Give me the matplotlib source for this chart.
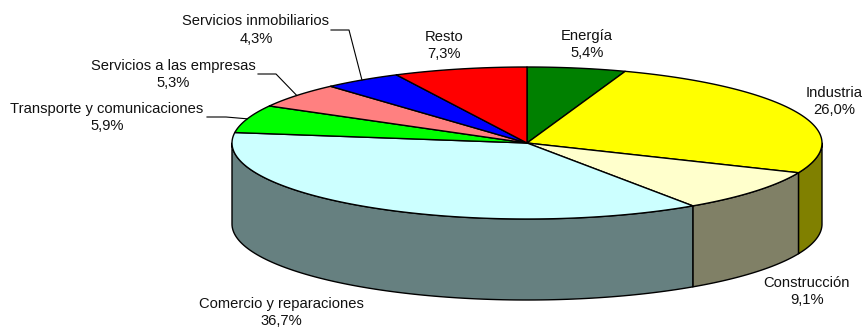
#!/usr/bin/env python3
import numpy as np
import matplotlib
matplotlib.use('Agg')
import matplotlib.pyplot as plt
from matplotlib.colors import to_rgb

plt.rcParams['font.family'] = ['Liberation Sans', 'DejaVu Sans']

# clockwise from 12 o'clock
sectors = ['Energía', 'Industria', 'Construcción', 'Comercio y reparaciones',
           'Transporte y comunicaciones', 'Servicios a las empresas',
           'Servicios inmobiliarios', 'Resto']
shares = [5.4, 26.0, 9.1, 36.7, 5.9, 5.3, 4.3, 7.3]
colors = ['#008000', '#FFFF00', '#FFFFCC', '#CCFFFF',
          '#00FF00', '#FF8080', '#0000FF', '#FF0000']

# label centre in pixels, one per sector
label_pos = [(587, 44.5), (834, 101.5), (807, 291.5), (281, 312.5),
             (107, 117.5), (173, 74.5), (256, 30), (444, 45.5)]
# sectors with a leader line: index -> (text end x, elbow x, y)
leaders = {4: (207, 226, 117), 5: (258, 276, 74), 6: (331, 349, 30)}

CX, CY = 527, 143
RX, RY = 295, 76
DEPTH = 81


def rim(t):
    t = np.radians(t)
    return CX + RX * np.sin(t), CY - RY * np.cos(t)


fig = plt.figure(figsize=(8.64, 3.27), dpi=100)
ax = fig.add_axes([0, 0, 1, 1])
ax.set_xlim(0, 864)
ax.set_ylim(327, 0)
ax.axis('off')

edges = np.cumsum([0] + shares) * 3.6

# side wall, only the front half of the rim shows
for i in range(len(shares)):
    a, b = max(edges[i], 90), min(edges[i + 1], 270)
    if a >= b:
        continue
    t = np.linspace(a, b, 100)
    x, y = rim(t)
    xs = np.r_[x, x[::-1]]
    ys = np.r_[y, y[::-1] + DEPTH]
    ax.fill(xs, ys, facecolor=np.array(to_rgb(colors[i])) * 0.5,
            edgecolor='black', linewidth=1.0, joinstyle='round', zorder=2)

# top face
for i in range(len(shares)):
    t = np.linspace(edges[i], edges[i + 1], 150)
    x, y = rim(t)
    ax.fill(np.r_[CX, x], np.r_[CY, y], facecolor=colors[i],
            edgecolor='black', linewidth=1.0, joinstyle='round', zorder=3)

for i, name in enumerate(sectors):
    txt = '{}\n{}%'.format(name, '{:.1f}'.format(shares[i]).replace('.', ','))
    ax.text(label_pos[i][0], label_pos[i][1], txt, ha='center', va='center',
            fontsize=10.6, color='#111111', linespacing=1.32, zorder=5)

for i, (x0, x1, y0) in leaders.items():
    xe, ye = rim((edges[i] + edges[i + 1]) / 2)
    ax.plot([x0, x1, xe], [y0, y0, ye], color='black', linewidth=0.8, zorder=4)

fig.savefig('out.png', dpi=100)
